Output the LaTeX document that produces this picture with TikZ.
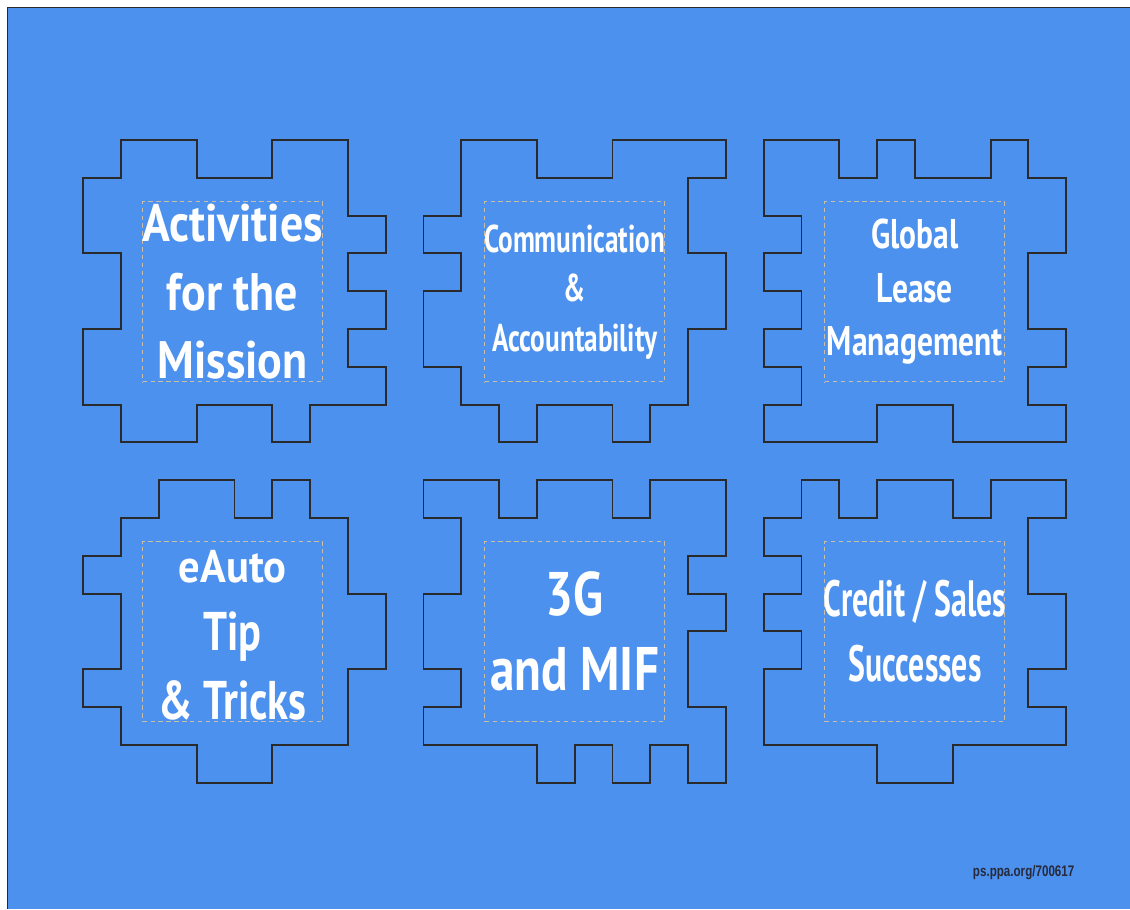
\documentclass[tikz,border=0pt]{standalone}
\usepackage{fontspec}
\newfontfamily\tilefont[FakeStretch=0.8]{PT Sans}
\newfontfamily\tagfont[FakeStretch=0.76]{Liberation Sans}
\definecolor{PanelBlue}{HTML}{4D91EF}
\definecolor{EdgeDark}{HTML}{2A2A2A}
\definecolor{GuideTan}{HTML}{C8BEAA}
\definecolor{FooterInk}{HTML}{262A3A}
\usetikzlibrary{positioning}

\begin{document}
\begin{tikzpicture}[
  x=0.756cm, y=-0.756cm,
  piece/.style={draw=EdgeDark, line width=1.1pt, line join=miter},
  frame/.style={draw=GuideTan, line width=0.6pt, dash pattern=on 2.5pt off 2pt, minimum width=3.6cm, minimum height=3.6cm, inner sep=0pt},
  tiletext/.style={text=white, align=center, inner sep=0pt, transform shape},
  footer/.style={text=FooterInk, font=\tagfont\bfseries\fontsize{8.7}{10}\selectfont, inner sep=0pt}
]
  \useasboundingbox (0,0) rectangle (29.894,24.048);
  \fill[PanelBlue] (0.198,0.198) rectangle (29.894,24.048);
  \draw[EdgeDark, line width=1.1pt] (0.198,24.048) -- (0.198,0.198) -- (29.894,0.198);

  % top row
  \begin{scope}[shift={(2.204,3.704)}]
    \draw[piece] (1,0) -- (3,0) -- (3,1) -- (5,1) -- (5,0) -- (7,0) -- (7,2) -- (8,2) -- (8,3) -- (7,3) -- (7,4) -- (8,4) -- (8,5) -- (7,5) -- (7,6) -- (8,6) -- (8,7) -- (6,7) -- (6,8) -- (5,8) -- (5,7) -- (3,7) -- (3,8) -- (1,8) -- (1,7) -- (0,7) -- (0,5) -- (1,5) -- (1,3) -- (0,3) -- (0,1) -- (1,1) -- cycle;
    \node[frame] (missionbox) at (3.95,4.02) {};
    \node[tiletext, xscale=1.09, font=\tilefont\bfseries\fontsize{30}{39}\selectfont] (mission) at (missionbox.center) {Activities\\for the\\Mission};
  \end{scope}

  \begin{scope}[shift={(11.204,3.704)}]
    \draw[piece] (1,0) -- (3,0) -- (3,1) -- (5,1) -- (5,0) -- (8,0) -- (8,1) -- (7,1) -- (7,3) -- (8,3) -- (8,5) -- (7,5) -- (7,7) -- (6,7) -- (6,8) -- (5,8) -- (5,7) -- (3,7) -- (3,8) -- (2,8) -- (2,7) -- (1,7) -- (1,6) -- (0,6) -- (0,4) -- (1,4) -- (1,3) -- (0,3) -- (0,2) -- (1,2) -- cycle;
    \node[frame] (commsbox) at (4,4.02) {};
    \node[tiletext, xscale=0.88, font=\tilefont\bfseries\fontsize{22}{28}\selectfont] (comms) at (commsbox.center) {Communication\\\&\\Accountability};
  \end{scope}

  \begin{scope}[shift={(20.204,3.704)}]
    \draw[piece] (0,0) -- (2,0) -- (2,1) -- (3,1) -- (3,0) -- (4,0) -- (4,1) -- (6,1) -- (6,0) -- (7,0) -- (7,1) -- (8,1) -- (8,3) -- (7,3) -- (7,5) -- (8,5) -- (8,6) -- (7,6) -- (7,7) -- (8,7) -- (8,8) -- (5,8) -- (5,7) -- (3,7) -- (3,8) -- (0,8) -- (0,7) -- (1,7) -- (1,6) -- (0,6) -- (0,5) -- (1,5) -- (1,4) -- (0,4) -- (0,3) -- (1,3) -- (1,2) -- (0,2) -- cycle;
    \node[frame] (leasebox) at (4,4.02) {};
    \node[tiletext, xscale=0.95, font=\tilefont\bfseries\fontsize{23.6}{30.4}\selectfont] (lease) at (leasebox.center) {Global\\Lease\\Management};
  \end{scope}

  % bottom row
  \begin{scope}[shift={(2.204,12.704)}]
    \draw[piece] (2,0) -- (4,0) -- (4,1) -- (5,1) -- (5,0) -- (6,0) -- (6,1) -- (7,1) -- (7,3) -- (8,3) -- (8,5) -- (7,5) -- (7,7) -- (5,7) -- (5,8) -- (3,8) -- (3,7) -- (1,7) -- (1,6) -- (0,6) -- (0,5) -- (1,5) -- (1,3) -- (0,3) -- (0,2) -- (1,2) -- (1,1) -- (2,1) -- cycle;
    \node[frame] (tipsbox) at (3.95,4) {};
    \node[tiletext, xscale=0.97, font=\tilefont\bfseries\fontsize{31}{39}\selectfont] (tips) at ([yshift=-2pt]tipsbox.center) {{\fontsize{26}{39}\selectfont\scalebox{1.2}[1]{eAuto}}\\Tip\\\& Tricks};
  \end{scope}

  \begin{scope}[shift={(11.204,12.704)}]
    \draw[piece] (0,0) -- (2,0) -- (2,1) -- (3,1) -- (3,0) -- (5,0) -- (5,1) -- (6,1) -- (6,0) -- (8,0) -- (8,2) -- (7,2) -- (7,3) -- (8,3) -- (8,4) -- (7,4) -- (7,6) -- (8,6) -- (8,8) -- (7,8) -- (7,7) -- (6,7) -- (6,8) -- (5,8) -- (5,7) -- (4,7) -- (4,8) -- (3,8) -- (3,7) -- (0,7) -- (0,6) -- (1,6) -- (1,5) -- (0,5) -- (0,3) -- (1,3) -- (1,1) -- (0,1) -- cycle;
    \node[frame] (mifbox) at (4,4) {};
    \node[tiletext, font=\tilefont\bfseries\fontsize{35}{42.7}\selectfont] (mif) at (mifbox.center) {3G\\and MIF};
  \end{scope}

  \begin{scope}[shift={(20.204,12.704)}]
    \draw[piece] (1,0) -- (2,0) -- (2,1) -- (3,1) -- (3,0) -- (5,0) -- (5,1) -- (6,1) -- (6,0) -- (8,0) -- (8,1) -- (7,1) -- (7,3) -- (8,3) -- (8,5) -- (7,5) -- (7,6) -- (8,6) -- (8,7) -- (5,7) -- (5,8) -- (3,8) -- (3,7) -- (0,7) -- (0,5) -- (1,5) -- (1,4) -- (0,4) -- (0,3) -- (1,3) -- (1,2) -- (0,2) -- (0,1) -- (1,1) -- cycle;
    \node[frame] (salesbox) at (4,4) {};
    \node[tiletext, xscale=0.78, font=\tilefont\bfseries\fontsize{29}{37}\selectfont] (sales) at (salesbox.center) {Credit / Sales\\Successes};
  \end{scope}

  \node[footer, anchor=base west] (link) at (25.73,23.175) {ps.ppa.org/700617};
\end{tikzpicture}
\end{document}
